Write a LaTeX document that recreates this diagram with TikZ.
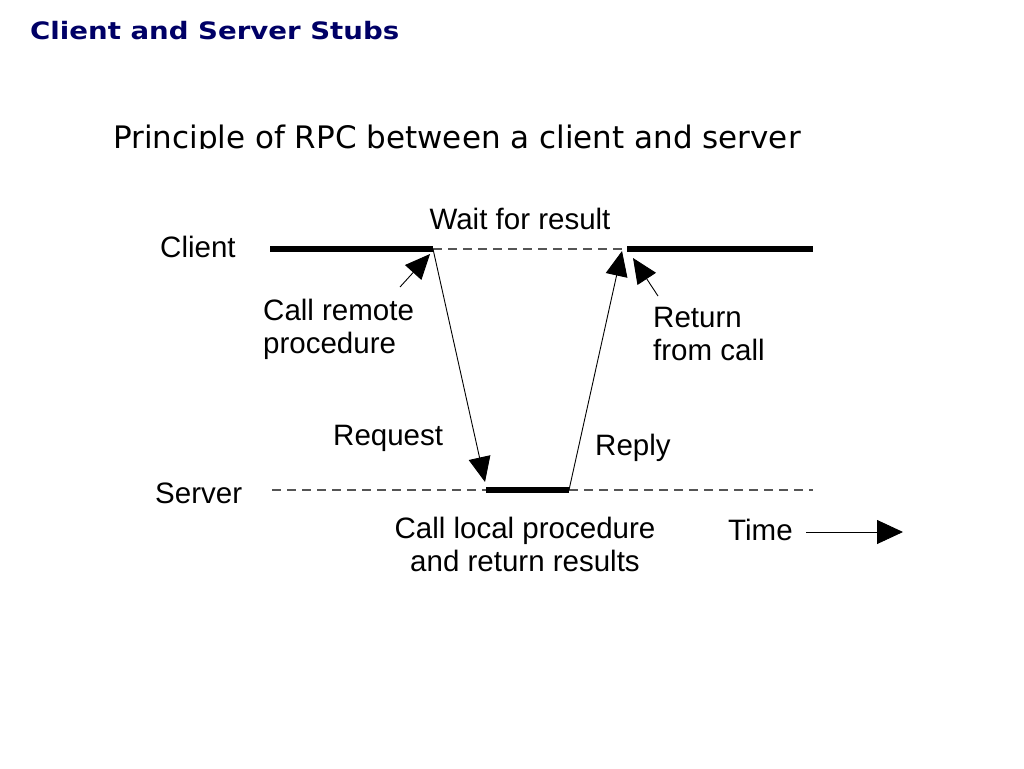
\documentclass[tikz,border=0pt]{standalone}
\usepackage{fontspec}
\setmainfont{Liberation Sans}
\newfontfamily\titlefont{DejaVu Sans}
\usetikzlibrary{arrows.meta}
\definecolor{navy}{HTML}{000066}
\definecolor{dashgray}{HTML}{555555}
\tikzset{
  lbl/.style={inner sep=0pt, font=\fontsize{29.5}{33}\selectfont},
  bar/.style={line width=6.5pt},
  wait/.style={dashgray, line width=1.1pt, dash pattern=on 9pt off 6pt},
  msg/.style={line width=0.9pt, -{Triangle[length=25pt,width=22pt]}},
  ptr/.style={line width=0.9pt, -{Triangle[length=25pt,width=22pt]}},
}
\begin{document}
\begin{tikzpicture}[x=1pt,y=-1pt]
\useasboundingbox[fill=white] (0,0) rectangle (1024,768);
% headings
\node[inner sep=0pt, anchor=base west, text=navy, font=\titlefont\bfseries\fontsize{24}{29}\selectfont] (title) at (30,40) {\scalebox{1.15}[1]{Client and Server Stubs}};
\begin{scope}
\clip (0,100) rectangle (1024,148);
\node[inner sep=0pt, anchor=base west, font=\titlefont\fontsize{31}{36}\selectfont] (sub) at (113,148) {Principle of RPC between a client and server};
\end{scope}
% coordinates
\coordinate (cA) at (270,249);
\coordinate (cB) at (433,249);
\coordinate (cC) at (627,249);
\coordinate (cD) at (813,249);
\coordinate (sA) at (272,490);
\coordinate (sB) at (486,490);
\coordinate (sC) at (569,490);
\coordinate (sD) at (813,490);
\coordinate (reqtip) at (485,482);
\coordinate (reptip) at (622,251);
\coordinate (callfrom) at (400,287);
\coordinate (calltip) at (430,254);
\coordinate (retfrom) at (658,296);
\coordinate (rettip) at (633,258);
\coordinate (timeA) at (806,532);
\coordinate (timeB) at (903,532);
% lines
\draw[wait] (cB) -- (cC);
\draw[wait] (sA) -- (sB);
\draw[wait] (sC) -- (sD);
\draw[bar] (cA) -- (cB);
\draw[bar] (cC) -- (cD);
\draw[bar] (sB) -- (sC);
\draw[msg] (cB) -- (reqtip);
\draw[msg] (sC) -- (reptip);
\draw[ptr] (callfrom) -- (calltip);
\draw[ptr] (retfrom) -- (rettip);
\draw[line width=0.9pt, -{Triangle[length=26pt,width=24pt]}] (timeA) -- (timeB);
% labels
\node[lbl, anchor=base west] (client) at (160,257) {Client};
\node[lbl, anchor=base] (waitlbl) at (520,229) {Wait for result};
\node[lbl, anchor=north west, align=left] (calllbl) at (263,299) {Call remote\\procedure};
\node[lbl, anchor=north west, align=left] (retlbl) at (653,307) {Return\\from call};
\node[lbl, anchor=base west] (reqlbl) at (333,445) {Request};
\node[lbl, anchor=base west] (replbl) at (595,455) {Reply};
\node[lbl, anchor=base west] (server) at (155,503) {Server};
\node[lbl, anchor=north, align=center] (locallbl) at (525,517) {Call local procedure\\and return results};
\node[lbl, anchor=base west] (timelbl) at (728,540) {Time};
\end{tikzpicture}
\end{document}
